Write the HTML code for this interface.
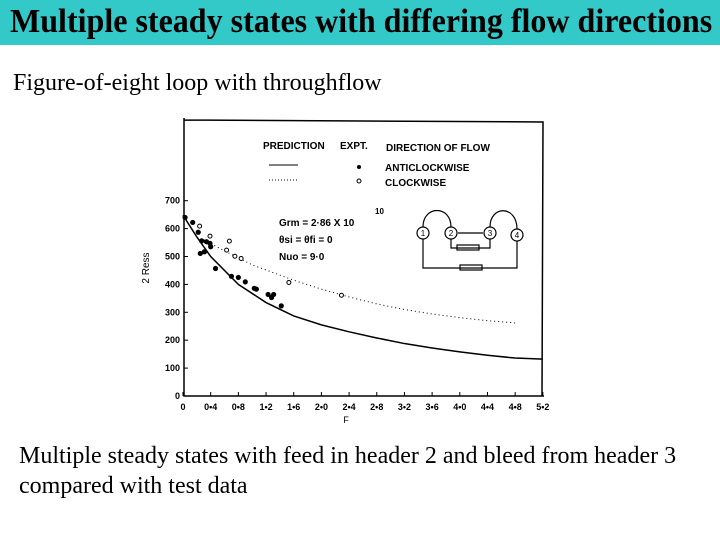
<!DOCTYPE html>
<html><head><meta charset="utf-8"><style>
body{margin:0;width:720px;height:540px;background:#fff;overflow:hidden;position:relative;font-family:"Liberation Serif",serif}
#band{position:absolute;left:0;top:0;width:720px;height:45px;background:#33C9C9}
#title{position:absolute;left:10px;top:3px;font-size:34px;line-height:38px;font-weight:bold;white-space:nowrap;transform:scaleX(0.942);transform-origin:left top}
.t{position:absolute;font-size:24px;white-space:nowrap}
svg{position:absolute;left:0;top:0}
</style></head><body>
<div id="band"></div>
<div id="title">Multiple steady states with differing flow directions</div>
<div class="t" style="left:13px;top:70px">Figure-of-eight loop with throughflow</div>
<div class="t" style="left:19px;top:441px;line-height:30px">Multiple steady states with feed in header 2 and bleed from header 3<br>compared with test data</div>
<svg id="chart" width="720" height="540" font-family="Liberation Sans, sans-serif"></svg>
<script>
const xTicks=[0,0.4,0.8,1.2,1.6,2.0,2.4,2.8,3.2,3.6,4.0,4.4,4.8,5.2];
const xTickLabels=["0","0•4","0•8","1•2","1•6","2•0","2•4","2•8","3•2","3•6","4•0","4•4","4•8","5•2"];
const yTicks=[0,100,200,300,400,500,600,700];
const antiF=[0.03,0.14,0.22,0.27,0.25,0.31,0.34,0.39,0.40,0.47,0.70,0.80,0.90,1.03,1.06,1.23,1.28,1.31,1.42];
const antiV=[640,622,587,556,511,517,553,547,535,457,429,425,409,386,383,364,353,364,323];
const clockF=[0.24,0.39,0.67,0.63,0.75,0.84,1.53,2.29];
const clockV=[609,573,555,523,501,493,407,361];
const solidF=[0,0.2,0.4,0.8,1.2,1.6,2.0,2.4,2.8,3.2,3.6,4.0,4.4,4.8,5.2];
const solidV=[648,570,500,400,335,287,255,230,208,188,172,158,146,136,132];
const dotF=[0.3,0.6,1.0,1.6,2.0,2.4,2.8,3.2,3.6,4.0,4.4,4.8];
const dotV=[560,520,470,415,383,355,330,310,294,281,270,262];
const X=f=>183+f*69.2, Y=v=>396-v*0.279;
const svg=document.getElementById('chart'),NS='http://www.w3.org/2000/svg';
function mk(t,a,p){const e=document.createElementNS(NS,t);for(const k in a)e.setAttribute(k,a[k]);(p||svg).appendChild(e);return e;}
let e;
e=mk('path',{d:'M184,118 L184,396 L544,396 M184,120 L543,122 L542,396',fill:'none',stroke:'#000','stroke-width':1.5});


xTicks.forEach((f,i)=>{
  e=mk('line',{x1:X(f),x2:X(f),y1:396,y2:392,stroke:'#000'});
  
  
  e=mk('text',{x:X(f),y:410,'font-size':9,'font-weight':'bold','text-anchor':'middle'});e.textContent=xTickLabels[i];
  
  
});
yTicks.forEach(v=>{
  e=mk('line',{x1:184,x2:188,y1:Y(v),y2:Y(v),stroke:'#000'});
  
  
  e=mk('text',{x:180,y:Y(v)+3,'font-size':9,'font-weight':'bold','text-anchor':'end'});e.textContent=String(v);
  
  
});
e=mk('text',{x:346,y:423,'font-size':9,'text-anchor':'middle'});e.textContent='F';


e=mk('text',{x:0,y:0,'font-size':10,'text-anchor':'middle',transform:'translate(149,268) rotate(-90)'});e.textContent='2 Ress';


e=mk('path',{d:'M'+solidF.map((f,i)=>X(f)+','+Y(solidV[i])).join(' L'),fill:'none',stroke:'#000','stroke-width':1.5});


e=mk('path',{d:'M'+dotF.map((f,i)=>X(f)+','+Y(dotV[i])).join(' L'),fill:'none',stroke:'#000','stroke-width':1,'stroke-dasharray':'1,3'});


antiF.forEach((f,i)=>{e=mk('circle',{cx:X(f),cy:Y(antiV[i]),r:2.6,fill:'#000'});
  
  });
clockF.forEach((f,i)=>{e=mk('circle',{cx:X(f),cy:Y(clockV[i]),r:2,fill:'#fff',stroke:'#000'});
  
  });
const lg=mk('g',{'font-size':10,'font-weight':'bold'});


[['PREDICTION',263,149],['EXPT.',340,149],['DIRECTION  OF  FLOW',386,151],['ANTICLOCKWISE',385,171],['CLOCKWISE',385,186]].forEach(a=>{const t=mk('text',{x:a[1],y:a[2]},lg);t.textContent=a[0];});
mk('line',{x1:269,x2:298,y1:165,y2:165,stroke:'#000'},lg);
mk('line',{x1:269,x2:298,y1:180,y2:180,stroke:'#000','stroke-dasharray':'1,2'},lg);
mk('circle',{cx:359,cy:167,r:2,fill:'#000'},lg);mk('circle',{cx:359,cy:181,r:2,fill:'#fff',stroke:'#000'},lg);
const an=mk('g',{'font-size':10,'font-weight':'bold'});


[['Grm  =  2·86 X 10',279,226],['θsi  =  θfi  =  0',279,243],['Nuo =  9·0',279,260]].forEach(a=>{const t=mk('text',{x:a[1],y:a[2]},an);t.textContent=a[0];});
const sp=mk('text',{x:375,y:214,'font-size':8},an);sp.textContent='10';
const sc=mk('g',{fill:'none',stroke:'#000','stroke-width':1.2});


mk('path',{d:'M423,227 C423,205 451,205 451,227 M490,227 C490,205 517,205 517,229 M423,239 L423,268 L517,268 L517,241 M451,239 L451,248 L490,248 L490,239 M458,233 L483,233'},sc);
mk('rect',{x:457,y:245,width:22,height:5},sc);mk('rect',{x:460,y:265,width:22,height:5},sc);
[[423,233,'1'],[451,233,'2'],[490,233,'3'],[517,235,'4']].forEach(c=>{mk('circle',{cx:c[0],cy:c[1],r:6,fill:'#fff'},sc);const t=mk('text',{x:c[0],y:c[1]+3,'font-size':8,'text-anchor':'middle',fill:'#000',stroke:'none'},sc);t.textContent=c[2];});
</script>
</body></html>
